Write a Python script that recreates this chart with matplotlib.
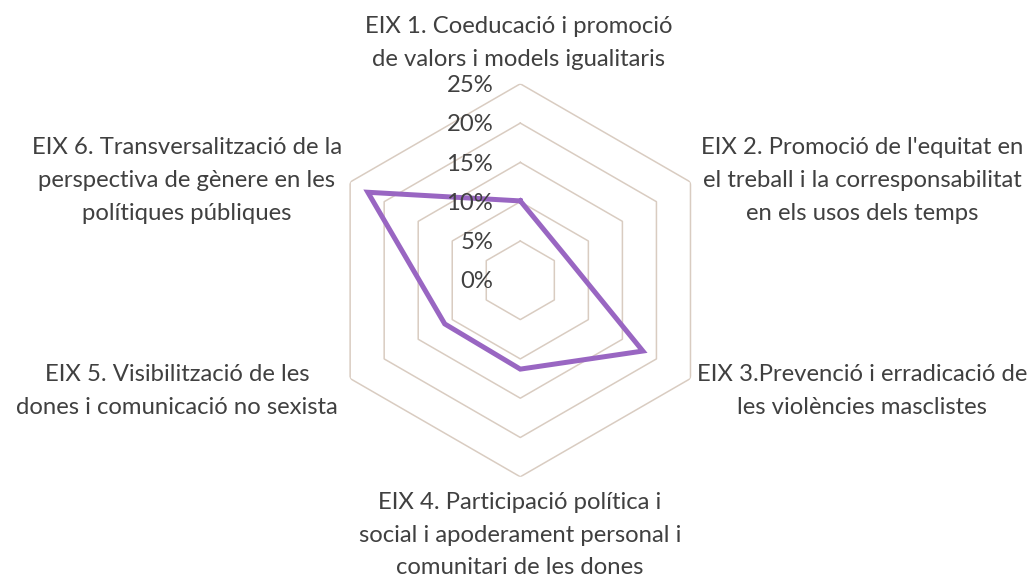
import numpy as np
import matplotlib
matplotlib.use('Agg')
import matplotlib.pyplot as plt

# Data
categories = [
    "EIX 1. Coeducació i promoció\nde valors i models igualitaris",
    "EIX 2. Promoció de l'equitat en\nel treball i la corresponsabilitat\nen els usos dels temps",
    "EIX 3.Prevenció i erradicació de\nles violències masclistes",
    "EIX 4. Participació política i\nsocial i apoderament personal i\ncomunitari de les dones",
    "EIX 5. Visibilització de les\ndones i comunicació no sexista",
    "EIX 6. Transversalització de la\nperspectiva de gènere en les\npolítiques públiques",
]
values = [0.101, 0.065, 0.180, 0.113, 0.111, 0.224]
levels = [0.05, 0.10, 0.15, 0.20, 0.25]
tick_values = [0.0, 0.05, 0.10, 0.15, 0.20, 0.25]

# label centres in pixels (x, y from top)
label_pos = [(519, 43), (862, 180.5), (862, 391), (520, 535), (177, 391), (187, 180.5)]

W, H = 1035, 578
plt.rcParams['font.family'] = ['Lato', 'DejaVu Sans']
text_color = '#404040'
grid_color = '#D9CCC1'
line_color = '#9966C2'
fsize = 17.2

fig = plt.figure(figsize=(W / 100, H / 100), dpi=100)
cx, cy, R = 520.3, 280.3, 196.5
ax = fig.add_axes([(cx - R) / W, (H - cy - R) / H, 2 * R / W, 2 * R / H], projection='polar')
ax.set_theta_offset(np.pi / 2)
ax.set_theta_direction(-1)
ax.set_ylim(0, 0.25)
ax.grid(False)
ax.spines['polar'].set_visible(False)
ax.set_xticks([])
ax.set_yticks([])
ax.patch.set_alpha(0)

n = len(categories)
angles = np.linspace(0, 2 * np.pi, n, endpoint=False)
closed = np.append(angles, angles[0])

# hexagonal rings
for lv in levels:
    ax.plot(closed, [lv] * (n + 1), color=grid_color, lw=1.1, zorder=1)

ax.plot(closed, values + values[:1], color=line_color, lw=3.6, zorder=3,
        solid_joinstyle='miter')

for tv in tick_values:
    ax.annotate(f"{int(round(tv * 100))}%", xy=(0, tv), xytext=(-19.5, -1.2),
                textcoords='offset points', ha='right', va='center',
                fontsize=fsize, color=text_color, zorder=4)

for lab, (px, py) in zip(categories, label_pos):
    fig.text(px / W, 1 - py / H, lab, ha='center', va='center', fontsize=fsize,
             color=text_color, linespacing=1.68, multialignment='center')

fig.savefig('out.png', dpi=100)
